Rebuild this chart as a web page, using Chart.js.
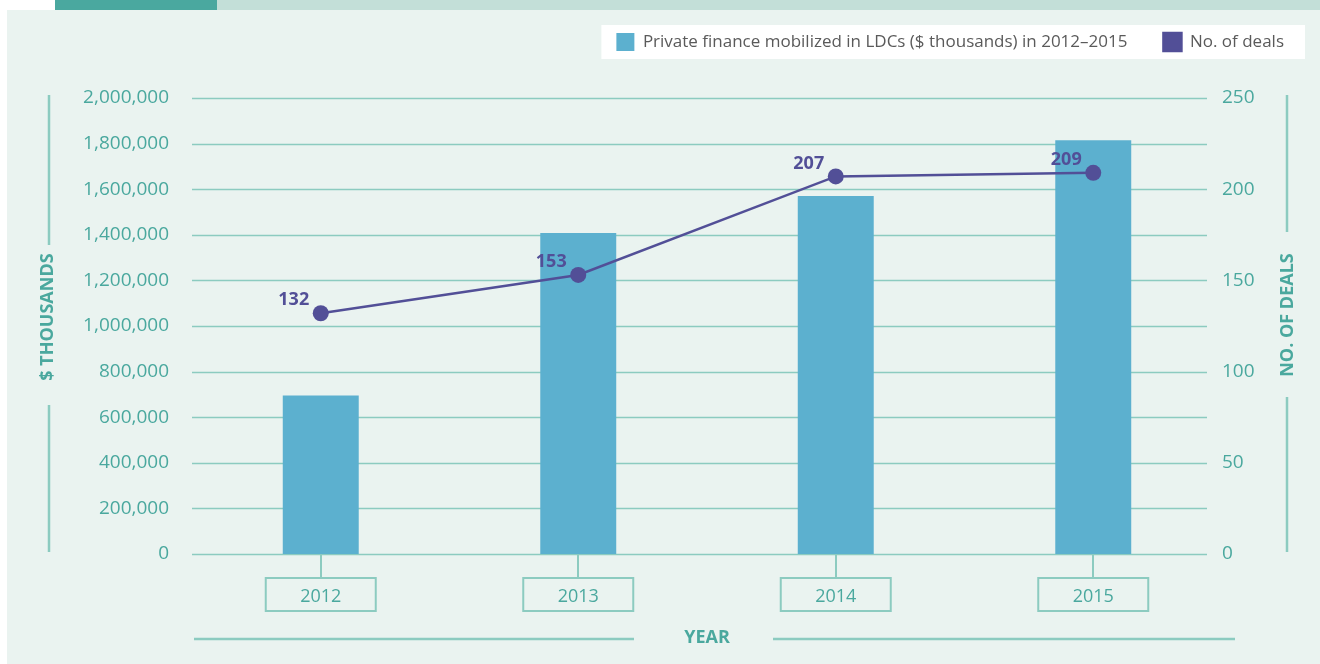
<!DOCTYPE html>
<html>
<head>
<meta charset="utf-8">
<script src="https://cdn.jsdelivr.net/npm/chart.js@4.4.1/dist/chart.umd.min.js"></script>
<style>
  html, body { margin: 0; padding: 0; background: #fff; }
  #wrap { position: relative; width: 1320px; height: 664px; overflow: hidden; }
  #band1 { position: absolute; left: 55px; top: 0; width: 162px; height: 10px; background: #4aa89f; }
  #band2 { position: absolute; left: 217px; top: 0; width: 1103px; height: 10px; background: #c3dfd8; }
  #panel { position: absolute; left: 7px; top: 10px; width: 1313px; height: 654px; background: #eaf3f0; }
  #chart { position: absolute; left: 0; top: 0; }
</style>
</head>
<body>
<div id="wrap">
  <div id="band1"></div>
  <div id="band2"></div>
  <div id="panel"></div>
  <canvas id="chart" width="1320" height="664"></canvas>
</div>
<script>
const years = ['2012', '2013', '2014', '2015']
const financeValues = [695000, 1408000, 1570000, 1815000]
const dealCounts = [132, 153, 207, 209]
const financeTicks = [0, 200000, 400000, 600000, 800000, 1000000, 1200000, 1400000, 1600000, 1800000, 2000000]
const dealTicks = [0, 50, 100, 150, 200, 250]

const TEAL = '#4aa89e'
const GRID = '#8ccbc0'
const BAR = '#5cb0cf'
const PURPLE = '#524f97'
const FONT = "'Open Sans', sans-serif"

// legend height -> chart area top at ~98px
const legendSpace = {
  id: 'legendSpace',
  beforeInit(chart) {
    const fit = chart.legend.fit
    chart.legend.fit = function() {
      fit.bind(chart.legend)()
      this.height = 101
    }
  }
}

// white box behind legend + horizontal grid (stops short of the right labels)
const background = {
  id: 'background',
  beforeDraw(chart) {
    const boxes = chart.legend.legendHitBoxes
    if (!boxes || !boxes.length) return
    const first = boxes[0]
    const last = boxes[boxes.length - 1]
    const ctx = chart.ctx
    ctx.save()
    ctx.fillStyle = '#ffffff'
    ctx.fillRect(first.left - 15, first.top - 8, last.left + last.width - first.left + 36, last.height + 16)
    ctx.restore()
  },
  beforeDatasetsDraw(chart) {
    const ctx = chart.ctx
    const area = chart.chartArea
    const y = chart.scales.y
    ctx.save()
    ctx.strokeStyle = GRID
    ctx.lineWidth = 1.5
    ctx.beginPath()
    financeTicks.forEach(v => {
      const py = Math.round(y.getPixelForValue(v)) + 0.5
      ctx.moveTo(area.left, py)
      ctx.lineTo(area.right - 15, py)
    })
    ctx.stroke()
    ctx.restore()
  }
}

function drawVerticalTitle(ctx, text, x, y) {
  ctx.save()
  ctx.translate(x, y)
  ctx.rotate(-Math.PI / 2)
  ctx.fillStyle = TEAL
  ctx.font = "bold 18px " + FONT
  ctx.textAlign = 'center'
  ctx.textBaseline = 'middle'
  ctx.fillText(text, 0, 0)
  ctx.restore()
}

// decorations: year boxes, axis titles and their lines, deal labels
const decorations = {
  id: 'decorations',
  afterDatasetsDraw(chart) {
    const ctx = chart.ctx
    const meta = chart.getDatasetMeta(1)
    ctx.save()
    ctx.fillStyle = PURPLE
    ctx.font = "bold 18px " + FONT
    ctx.textAlign = 'center'
    ctx.textBaseline = 'middle'
    meta.data.forEach((pt, i) => {
      ctx.fillText(String(dealCounts[i]), pt.x - 27, pt.y - 13)
    })
    ctx.restore()
  },
  afterDraw(chart) {
    const ctx = chart.ctx
    const area = chart.chartArea
    const x = chart.scales.x
    ctx.save()
    ctx.strokeStyle = GRID
    ctx.lineWidth = 2
    // year label boxes
    years.forEach((y, i) => {
      const px = x.getPixelForTick(i)
      ctx.strokeRect(px - 55, area.bottom + 24, 110, 33)
    })
    // YEAR title lines
    ctx.lineWidth = 2.5
    const yy = 639
    ctx.beginPath()
    ctx.moveTo(194, yy); ctx.lineTo(634, yy)
    ctx.moveTo(773, yy); ctx.lineTo(1235, yy)
    ctx.stroke()
    // vertical axis title lines
    const cy = (area.top + area.bottom) / 2
    ctx.beginPath()
    ctx.moveTo(49, area.top - 3); ctx.lineTo(49, cy - 81)
    ctx.moveTo(49, cy + 79); ctx.lineTo(49, area.bottom - 2)
    ctx.moveTo(1287, area.top - 3); ctx.lineTo(1287, cy - 94)
    ctx.moveTo(1287, cy + 71); ctx.lineTo(1287, area.bottom - 2)
    ctx.stroke()
    ctx.restore()
    drawVerticalTitle(ctx, '$ THOUSANDS', 48, cy - 9)
    drawVerticalTitle(ctx, 'NO. OF DEALS', 1288, cy - 11)
  }
}

new Chart(document.getElementById('chart'), {
  data: {
    labels: years,
    datasets: [
      {
        type: 'bar',
        label: 'Private finance mobilized in LDCs ($ thousands) in 2012\u20132015',
        data: financeValues,
        backgroundColor: BAR,
        borderWidth: 0,
        barPercentage: 0.59,
        categoryPercentage: 0.5,
        yAxisID: 'y',
        order: 2
      },
      {
        type: 'line',
        label: 'No. of deals',
        data: dealCounts,
        borderColor: PURPLE,
        backgroundColor: PURPLE,
        borderWidth: 2.5,
        pointRadius: 8,
        pointBackgroundColor: PURPLE,
        pointBorderWidth: 0,
        tension: 0,
        yAxisID: 'y1',
        order: 1
      }
    ]
  },
  plugins: [legendSpace, background, decorations],
  options: {
    responsive: false,
    animation: false,
    layout: { padding: { top: -3, left: 0, right: 0, bottom: 0 } },
    plugins: {
      legend: {
        display: true,
        position: 'top',
        align: 'end',
        labels: {
          boxWidth: 18,
          boxHeight: 18,
          padding: 36,
          color: '#5a5a5a',
          font: { family: FONT, size: 17 },
          sort: (a, b) => a.datasetIndex - b.datasetIndex
        }
      },
      tooltip: { enabled: false }
    },
    scales: {
      x: {
        offset: true,
        grid: {
          display: true,
          offset: false,
          drawOnChartArea: false,
          drawTicks: true,
          tickLength: 24,
          color: GRID,
          lineWidth: 2
        },
        border: { display: false },
        ticks: {
          color: TEAL,
          padding: 8,
          font: { family: FONT, size: 18 }
        },
        title: {
          display: true,
          text: 'YEAR',
          color: TEAL,
          font: { family: FONT, size: 18, weight: 'bold' },
          padding: { top: 0, bottom: 15 }
        },
        afterFit(scale) { scale.height = 110 }
      },
      y: {
        position: 'left',
        min: financeTicks[0],
        max: financeTicks[financeTicks.length - 1],
        grid: { display: false },
        border: { display: false },
        ticks: {
          stepSize: financeTicks[1] - financeTicks[0],
          color: TEAL,
          padding: 15,
          font: { family: FONT, size: 19 },
          callback: v => v.toLocaleString('en-US')
        },
        afterFit(scale) { scale.width = 192 }
      },
      y1: {
        position: 'right',
        min: dealTicks[0],
        max: dealTicks[dealTicks.length - 1],
        grid: { drawOnChartArea: false, drawTicks: false },
        border: { display: false },
        ticks: {
          stepSize: dealTicks[1] - dealTicks[0],
          color: TEAL,
          padding: 0,
          font: { family: FONT, size: 19 }
        },
        afterFit(scale) { scale.width = 98 }
      }
    }
  }
})
</script>
</body>
</html>
